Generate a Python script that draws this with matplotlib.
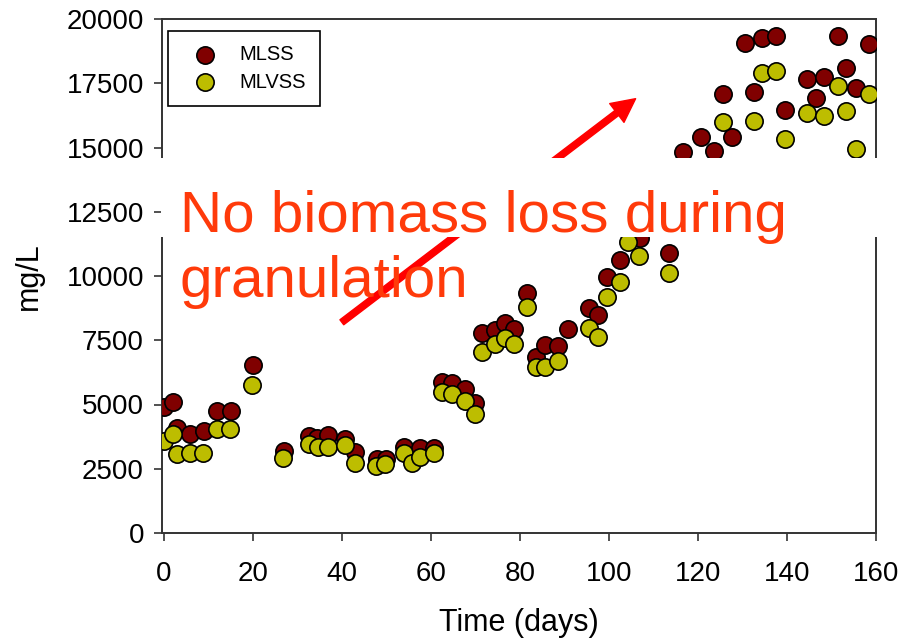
import matplotlib
matplotlib.use("Agg")
import matplotlib.pyplot as plt
from matplotlib.patches import Rectangle

plt.rcParams["font.family"] = ["Liberation Sans", "DejaVu Sans"]

# --- data ----------------------------------------------------------------
mlss_days = [0, 2, 3, 6, 9, 12, 15, 20, 27, 32.7, 34.5, 36.8, 40.8, 43, 48, 50,
             54, 57.6, 60.8, 62.4, 64.8, 67.7, 69.9, 71.6, 74.4, 76.6, 78.7,
             81.7, 83.7, 85.6, 88.6, 90.7, 95.5, 97.6, 99.6, 102.6, 106.9,
             113.6, 116.6, 120.6, 123.5, 125.6, 127.6, 130.5, 132.5, 134.5,
             137.5, 139.5, 144.5, 146.5, 148.4, 151.4, 153.3, 155.5, 158.4]
mlss = [4910, 5080, 4070, 3850, 3980, 4760, 4760, 6530, 3200, 3770, 3680, 3810,
        3650, 3160, 2870, 2870, 3360, 3300, 3320, 5880, 5850, 5590, 5050, 7770,
        7900, 8180, 7920, 9350, 6830, 7310, 7270, 7940, 8740, 8480, 9970,
        10620, 11460, 10880, 14830, 15420, 14860, 17100, 15420, 19050, 17170,
        19270, 19350, 16450, 17650, 16940, 17730, 19330, 18090, 17300, 19010]

mlvss_days = [0, 2, 2.9, 5.9, 8.9, 11.9, 14.9, 19.9, 26.8, 32.7, 34.6, 36.8,
              40.8, 43, 47.7, 49.7, 54, 55.7, 57.6, 60.8, 62.4, 64.8, 67.7,
              69.9, 71.6, 74.4, 76.6, 78.7, 81.7, 83.7, 85.6, 88.6, 95.5, 97.6,
              99.6, 102.6, 104.3, 106.7, 113.6, 125.6, 132.5, 134.5, 137.5,
              139.5, 144.5, 148.4, 151.4, 153.3, 155.5, 158.4]
mlvss = [3590, 3840, 3070, 3120, 3120, 4060, 4060, 5760, 2900, 3460, 3330, 3360,
         3420, 2710, 2610, 2670, 3100, 2710, 2970, 3100, 5500, 5400, 5130, 4630,
         7050, 7350, 7600, 7350, 8780, 6470, 6470, 6700, 7960, 7640, 9170, 9780,
         11330, 10780, 10100, 16000, 16040, 17900, 17990, 15330, 16330, 16230,
         17390, 16430, 14940, 17090]

x_ticks = [0, 20, 40, 60, 80, 100, 120, 140, 160]
y_ticks = [0, 2500, 5000, 7500, 10000, 12500, 15000, 17500, 20000]

note_lines = ["No biomass loss during", "granulation"]
arrow_from = (40, 8200)
arrow_to = (106, 16900)

RED_DARK = "#800000"
OLIVE = "#bdbd00"
NOTE = "#ff3a0a"

fig = plt.figure(figsize=(9.01, 6.41), dpi=100)
ax = fig.add_axes([162 / 901, 1 - 533 / 641, 714 / 901, 514 / 641])

ax.scatter(mlss_days, mlss, s=155, color=RED_DARK, edgecolors="black",
           linewidths=1.2, label="MLSS", zorder=3)
ax.scatter(mlvss_days, mlvss, s=155, color=OLIVE, edgecolors="black",
           linewidths=1.2, label="MLVSS", zorder=4)

ax.set_xlim(-0.4, 160)
ax.set_ylim(0, 20000)
ax.set_xticks(x_ticks)
ax.set_yticks(y_ticks)
for sp in ax.spines.values():
    sp.set_linewidth(1.4)
    sp.set_color("#333333")
ax.tick_params(axis="both", direction="out", length=6, width=1.2,
               labelsize=20, color="#333333")
ax.tick_params(axis="x", pad=14)
ax.tick_params(axis="y", pad=7)
ax.set_xlabel("Time (days)", fontsize=22)
ax.set_ylabel("mg/L", fontsize=22)
ax.xaxis.set_label_coords(0.5, -0.145)
ax.yaxis.set_label_coords(-0.166, 0.5)

leg = ax.legend(loc="upper left", bbox_to_anchor=(168 / 901, 1 - 31 / 641),
                bbox_transform=fig.transFigure, borderaxespad=0,
                fontsize=14.5, scatterpoints=1, fancybox=False, framealpha=1,
                borderpad=0.72, labelspacing=0.4, handlelength=2.2,
                handletextpad=0.6)
leg.get_frame().set_edgecolor("black")
leg.get_frame().set_linewidth(1.2)

ax.annotate("", xy=arrow_to, xytext=arrow_from,
            arrowprops=dict(arrowstyle="simple,head_width=17,head_length=17,tail_width=4.5",
                            mutation_scale=1, color="#ff0000",
                            shrinkA=0, shrinkB=0), zorder=5)

# white text-box band that hides part of the axes
fig.patches.append(Rectangle((161 / 901, 1 - 237 / 641), 740 / 901, 79 / 641,
                             transform=fig.transFigure, facecolor="white",
                             edgecolor="none", zorder=2))
fig.text(180 / 901, 1 - 232 / 641, note_lines[0], fontsize=42, color=NOTE,
         va="baseline", ha="left", zorder=3)
fig.text(180 / 901, 1 - 297 / 641, note_lines[1], fontsize=42, color=NOTE,
         va="baseline", ha="left", zorder=3)

fig.savefig("out.png", dpi=100)
